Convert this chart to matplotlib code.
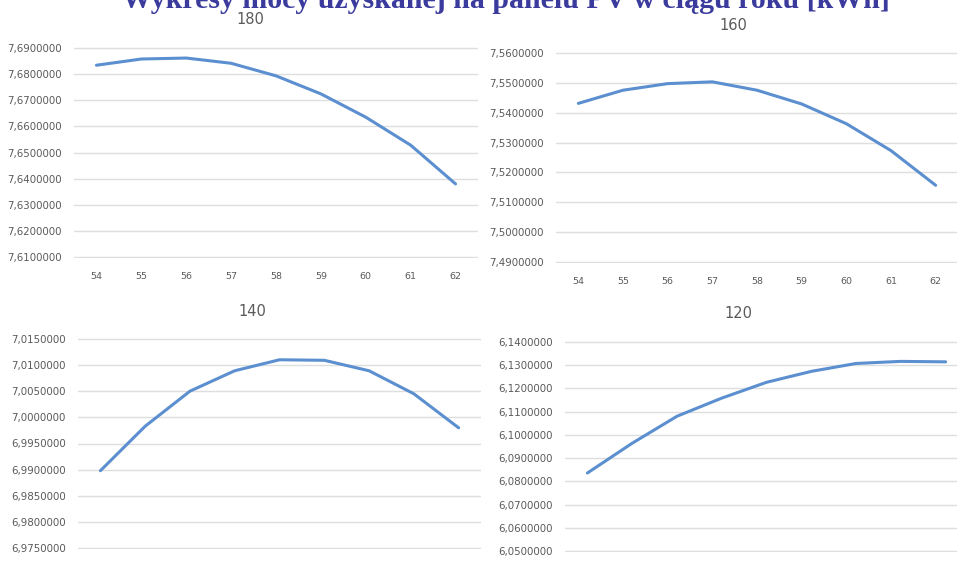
import numpy as np
import matplotlib
matplotlib.use("Agg")
import matplotlib.pyplot as plt

# Tilt angle (deg) on the x axis, yearly energy per panel [MWh] on y
angles = [54, 55, 56, 57, 58, 59, 60, 61, 62]

energy_180 = [7.68335, 7.68573, 7.68610, 7.68410, 7.67930, 7.67240, 7.66350, 7.65280, 7.63800]
energy_160 = [7.54310, 7.54750, 7.54970, 7.55030, 7.54750, 7.54290, 7.53630, 7.52730, 7.51570]
energy_140 = [6.98980, 6.99830, 7.00500, 7.00890, 7.01100, 7.01090, 7.00890, 7.00450, 6.99800]
energy_120 = [6.08360, 6.09640, 6.10800, 6.11580, 6.12260, 6.12730, 6.13070, 6.13160, 6.13140]

panel_titles = ["180", "160", "140", "120"]
y_ticks_180 = [7.61, 7.62, 7.63, 7.64, 7.65, 7.66, 7.67, 7.68, 7.69]
y_ticks_160 = [7.49, 7.50, 7.51, 7.52, 7.53, 7.54, 7.55, 7.56]
y_ticks_140 = [6.975, 6.980, 6.985, 6.990, 6.995, 7.000, 7.005, 7.010, 7.015]
y_ticks_120 = [6.05, 6.06, 6.07, 6.08, 6.09, 6.10, 6.11, 6.12, 6.13, 6.14]

main_title = "Wykresy mocy uzyskanej na panelu PV w ciągu roku [kWh]"

W, H = 957, 563
fig = plt.figure(figsize=(W / 100, H / 100), dpi=100)
fig.patch.set_facecolor("white")

LINE = "#5b8fd0"
GRID = "#dedede"
TXT = "#5a5a5a"
TICKFONT = ["Liberation Sans Narrow", "DejaVu Sans"]


def px_axes(left, right, top, bottom):
    return fig.add_axes([left / W, 1 - bottom / H, (right - left) / W, (bottom - top) / H])


def draw_panel(box, values, yticks, title, title_xy):
    ax = px_axes(*box)
    ax.plot(angles, values, color=LINE, lw=2.2, solid_capstyle="round")
    ax.set_xlim(angles[0] - 0.5, angles[-1] + 0.5)
    pad = (yticks[-1] - yticks[0]) * 0.004
    ax.set_ylim(yticks[0] - pad, yticks[-1] + pad)
    ax.set_yticks(yticks)
    ax.set_yticklabels([f"{v:.7f}".replace(".", ",") for v in yticks],
                       fontsize=7.4, color=TXT, family=TICKFONT)
    ax.set_xticks(angles)
    ax.set_xticklabels([str(a) for a in angles], fontsize=6.8, color=TXT, family=TICKFONT)
    ax.tick_params(length=0, pad=10)
    ax.tick_params(axis="y", pad=9)
    ax.grid(axis="y", color=GRID, lw=1.0)
    ax.set_axisbelow(True)
    for s in ax.spines.values():
        s.set_visible(False)
    fig.text(title_xy[0] / W, 1 - title_xy[1] / H, title, fontsize=10.5,
             color=TXT, ha="center", va="center")
    return ax


draw_panel((74, 478, 47, 258), energy_180, y_ticks_180, panel_titles[0], (250, 19))
draw_panel((556, 958, 52, 263), energy_160, y_ticks_160, panel_titles[1], (733, 25))
draw_panel((78, 481, 338, 549), energy_140, y_ticks_140, panel_titles[2], (252, 311))
draw_panel((565, 968, 341, 552), energy_120, y_ticks_120, panel_titles[3], (738, 313))

fig.text(506 / W, 1 - 8 / H, main_title, fontsize=21.5, fontweight="bold",
         family=["Liberation Serif", "DejaVu Serif"], color="#3b3b9e",
         ha="center", va="baseline")

fig.savefig("out.png", dpi=100, facecolor="white")
